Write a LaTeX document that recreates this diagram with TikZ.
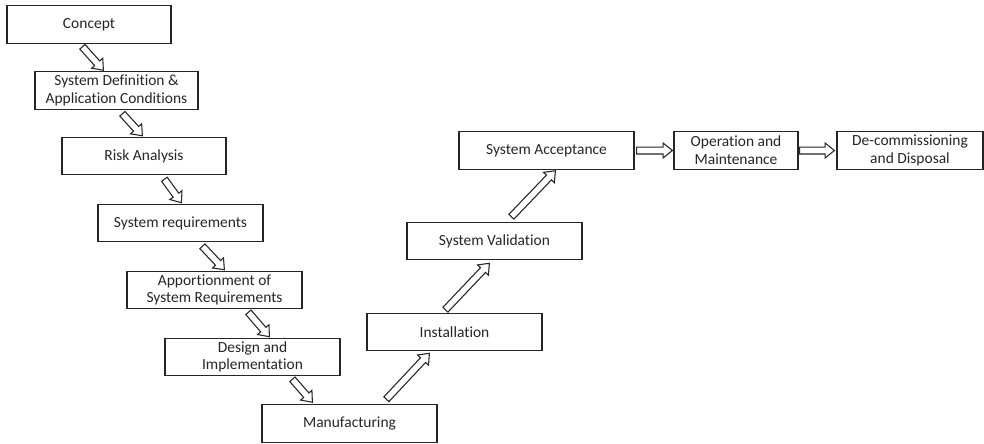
\documentclass[tikz,border=0pt]{standalone}
\usepackage{fontspec}
\setmainfont{Carlito}[Ligatures=NoCommon]
\usetikzlibrary{calc}

% hollow block arrows: half shaft width, half head width, head length
\def\shafthalf{2.6pt}
\def\headhalf{5.6pt}
\def\headlen{7pt}

\tikzset{
  stage/.style={draw=black!85, line width=0.9pt, fill=white,
    minimum height=28pt, inner sep=2pt, align=center,
    font=\fontsize{11.6}{13.3}\selectfont, text=black!85},
  fat/.style={draw=black!85, line width=0.8pt, fill=white, line join=miter},
}

% \fatarrow{tail}{tip}
\newcommand\fatarrow[2]{%
  \coordinate (ha) at ($(#2)!\headlen!(#1)$);
  \draw[fat] ($(#1)!\shafthalf!90:(#2)$) -- ($(ha)!\shafthalf!90:(#2)$)
    -- ($(ha)!\headhalf!90:(#2)$) -- (#2)
    -- ($(ha)!\headhalf!-90:(#2)$) -- ($(ha)!\shafthalf!-90:(#2)$)
    -- ($(#1)!\shafthalf!-90:(#2)$) -- cycle;}

\begin{document}
\begin{tikzpicture}[x=0.75pt, y=-0.75pt]
\useasboundingbox[fill=white] (0,0) rectangle (984,443);

% life-cycle phases
\node[stage, minimum width=123pt]    (concept) at (89,24.5)   {Concept};
\node[stage, minimum width=122.25pt] (sysdef)  at (116.5,90.5) {System Definition \&\\Application Conditions};
\node[stage, minimum width=123pt]    (risk)    at (144,156)   {Risk Analysis};
\node[stage, minimum width=123.75pt] (sysreq)  at (180.5,223) {System requirements};
\node[stage, minimum width=131.25pt] (apport)  at (214.5,290) {Apportionment of\\System Requirements};
\node[stage, minimum width=131.25pt] (design)  at (252.5,357) {Design and\\Implementation};
\node[stage, minimum width=131.25pt] (manuf)   at (349.5,423.5) {Manufacturing};
\node[stage, minimum width=131.25pt] (install) at (454.5,332) {Installation};
\node[stage, minimum width=131.25pt] (valid)   at (494.5,241) {System Validation};
\node[stage, minimum width=131.25pt] (accept)  at (546.5,150.5) {System Acceptance};
\node[stage, minimum width=93pt]     (opmaint) at (736,150.5) {Operation and\\Maintenance};
\node[stage, minimum width=109.5pt]  (decom)   at (910,150.5) {De-commissioning\\and Disposal};

% arrow ends
\coordinate (t1) at ($(concept.south west)+(76,3)$);
\coordinate (h1) at ($(sysdef.north west)+(69,-1)$);
\coordinate (t2) at ($(sysdef.south west)+(88,4)$);
\coordinate (h2) at ($(risk.north west)+(81,-1)$);
\coordinate (t3) at ($(risk.south west)+(103,4)$);
\coordinate (h3) at ($(sysreq.north west)+(84,-1)$);
\coordinate (t4) at ($(sysreq.south west)+(105,4)$);
\coordinate (h4) at ($(apport.north west)+(98,-1)$);
\coordinate (t5) at ($(apport.south west)+(122,3)$);
\coordinate (h5) at ($(design.north west)+(105,-1)$);
\coordinate (t6) at ($(design.south west)+(128,3)$);
\coordinate (h6) at ($(manuf.north west)+(51,-2)$);
\coordinate (t7) at ($(manuf.north west)+(125,-5)$);
\coordinate (h7) at ($(install.south west)+(63,2)$);
\coordinate (t8) at ($(install.north west)+(79,-3)$);
\coordinate (h8) at ($(valid.south west)+(83,3)$);
\coordinate (t9) at ($(valid.north west)+(105,-5)$);
\coordinate (h9) at ($(accept.south west)+(97,1)$);
\coordinate (t10) at ($(accept.east)+(2,0)$);
\coordinate (h10) at ($(opmaint.west)+(-1,0)$);
\coordinate (t11) at ($(opmaint.east)+(1,0)$);
\coordinate (h11) at ($(decom.west)+(-2,0)$);

\fatarrow{t1}{h1}
\fatarrow{t2}{h2}
\fatarrow{t3}{h3}
\fatarrow{t4}{h4}
\fatarrow{t5}{h5}
\fatarrow{t6}{h6}
\fatarrow{t7}{h7}
\fatarrow{t8}{h8}
\fatarrow{t9}{h9}
\fatarrow{t10}{h10}
\fatarrow{t11}{h11}
\end{tikzpicture}
\end{document}
